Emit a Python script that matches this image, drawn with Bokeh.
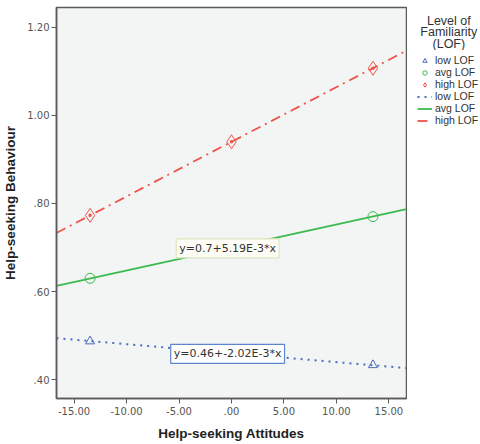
from bokeh.plotting import figure
from bokeh.layouts import row, column
from bokeh.models import Range1d, Label, Legend, LegendItem, FixedTicker
from bokeh.embed import file_html
from bokeh.resources import INLINE

# ---- data ----
x_points = [-13.48, 0.0, 13.48]
low_y = [0.487, 0.460, 0.433]
avg_y = [0.630, 0.700, 0.770]
high_y = [0.773, 0.940, 1.107]

line_x = [-16.68, 16.68]
low_line = [0.494, 0.426]
avg_line = [0.613, 0.787]
high_line = [0.733, 1.147]

x_ticks = [-15, -10, -5, 0, 5, 10, 15]
x_tick_labels = ["-15.00", "-10.00", "-5.00", ".00", "5.00", "10.00", "15.00"]
y_ticks = [0.4, 0.6, 0.8, 1.0, 1.2]
y_tick_labels = [".40", ".60", ".80", "1.00", "1.20"]

series = ["low LOF", "avg LOF", "high LOF"]
eq_low = "y=0.46+-2.02E-3*x"
eq_avg = "y=0.7+5.19E-3*x"
legend_title = ["Level of", "Familiarity", "(LOF)"]

BLUE = "#4a6cc0"
GREEN = "#3dba4e"
RED = "#ef5249"

p = figure(width=407, height=444, output_backend="svg", toolbar_location=None,
           x_range=Range1d(-16.68, 16.68), y_range=Range1d(0.357, 1.245),
           min_border_left=49, min_border_right=1, min_border_top=7, min_border_bottom=46)
p.background_fill_color = "#f3f5f5"
p.border_fill_color = "white"
p.outline_line_color = "#5a5a5a"
p.outline_line_width = 1.5
p.xgrid.visible = False
p.ygrid.visible = False

for ax in (p.xaxis[0], p.yaxis[0]):
    ax.axis_line_color = "#5a5a5a"
    ax.axis_line_width = 1.5
    ax.major_tick_line_color = "#5a5a5a"
    ax.major_tick_out = 5
    ax.major_tick_in = 0
    ax.minor_tick_line_color = None
    ax.major_label_text_font = "DejaVu Sans"
    ax.major_label_text_font_size = "10px"
    ax.major_label_text_color = "#555555"
    ax.axis_label_text_font = "Liberation Sans"
    ax.axis_label_text_font_style = "bold"
    ax.axis_label_text_font_size = "13.5px"
    ax.axis_label_text_color = "#222222"

p.xaxis.ticker = FixedTicker(ticks=x_ticks)
p.xaxis.major_label_overrides = dict(zip(x_ticks, x_tick_labels))
p.yaxis.ticker = FixedTicker(ticks=y_ticks)
p.yaxis.major_label_overrides = dict(zip(y_ticks, y_tick_labels))
p.xaxis.axis_label = "Help-seeking Attitudes"
p.yaxis.axis_label = "Help-seeking Behaviour"
p.xaxis.major_label_standoff = 3
p.yaxis.major_label_standoff = 2
p.xaxis.axis_label_standoff = 8
p.yaxis.axis_label_standoff = 6

LOW_DASH = "2 5"
HIGH_DASH = "10 5 2 5"

p.line(line_x, low_line, line_color=BLUE, line_width=2, line_dash=LOW_DASH)
p.line(line_x, avg_line, line_color=GREEN, line_width=1.8)
p.line(line_x, high_line, line_color=RED, line_width=1.8, line_dash=HIGH_DASH)

p.scatter(x_points, low_y, marker="triangle", size=9, fill_color=None, line_color=BLUE, line_width=1)
p.scatter(x_points, avg_y, marker="circle", size=10, fill_color=None, line_color=GREEN, line_width=1)
p.scatter(x_points, high_y, marker="diamond_dot", size=14, fill_color=None, line_color=RED, line_width=1)

p.add_layout(Label(x=-0.37, y=0.698, text=eq_avg, text_align="center", text_baseline="middle",
                   text_font="DejaVu Sans", text_font_size="11px", text_color="#333333",
                   background_fill_color="#fdfdf6", border_line_color="#dde6bd", border_line_width=1.2,
                   padding=3))
p.add_layout(Label(x=-0.37, y=0.4585, text=eq_low, text_align="center", text_baseline="middle",
                   text_font="DejaVu Sans", text_font_size="11px", text_color="#333333",
                   background_fill_color="#ffffff", border_line_color="#5b86cc", border_line_width=1.2,
                   padding=3))

# ---- legend title panel ----
t = figure(width=73, height=50, output_backend="svg", toolbar_location=None,
           x_range=Range1d(0, 73), y_range=Range1d(50, 0),
           min_border_left=0, min_border_right=0, min_border_top=0, min_border_bottom=0)
t.axis.visible = False
t.xgrid.visible = False
t.ygrid.visible = False
t.outline_line_color = None
for i, s in enumerate(legend_title):
    t.add_layout(Label(x=38.5, y=20 + i * 11.5, text=s, text_align="center", text_baseline="middle",
                       text_font="Liberation Sans", text_font_size="12.5px", text_color="#333333"))

# ---- legend items panel (swatch renderers sit outside its visible range) ----
lg = figure(width=73, height=394, output_backend="svg", toolbar_location=None,
            x_range=Range1d(0, 1), y_range=Range1d(0, 1),
            min_border_left=6, min_border_right=0, min_border_top=0, min_border_bottom=0)
lg.axis.visible = False
lg.xgrid.visible = False
lg.ygrid.visible = False
lg.outline_line_color = None

hx, hy = [5, 6], [5, 6]
r1 = lg.scatter(hx[:1], hy[:1], marker="triangle", size=9, fill_color=None, line_color=BLUE, line_width=1)
r2 = lg.scatter(hx[:1], hy[:1], marker="circle", size=10, fill_color=None, line_color=GREEN, line_width=1)
r3 = lg.scatter(hx[:1], hy[:1], marker="diamond", size=12, fill_color=None, line_color=RED, line_width=1)
r4 = lg.line(hx, hy, line_color=BLUE, line_width=2, line_dash=LOW_DASH)
r5 = lg.line(hx, hy, line_color=GREEN, line_width=1.8)
r6 = lg.line(hx, hy, line_color=RED, line_width=1.8, line_dash=HIGH_DASH)

items = [LegendItem(label=series[0], renderers=[r1]),
         LegendItem(label=series[1], renderers=[r2]),
         LegendItem(label=series[2], renderers=[r3]),
         LegendItem(label=series[0], renderers=[r4]),
         LegendItem(label=series[1], renderers=[r5]),
         LegendItem(label=series[2], renderers=[r6])]
leg = Legend(items=items, location="top_left", padding=0, margin=4, spacing=0,
             glyph_width=15, glyph_height=11, label_height=11, label_standoff=3,
             label_text_font="Liberation Sans", label_text_font_size="10.5px", label_text_color="#333333",
             border_line_color=None, background_fill_alpha=0)
lg.add_layout(leg, "center")

layout = row(p, column(t, lg, spacing=0), spacing=0)
open("out.html", "w").write(file_html(layout, INLINE))
